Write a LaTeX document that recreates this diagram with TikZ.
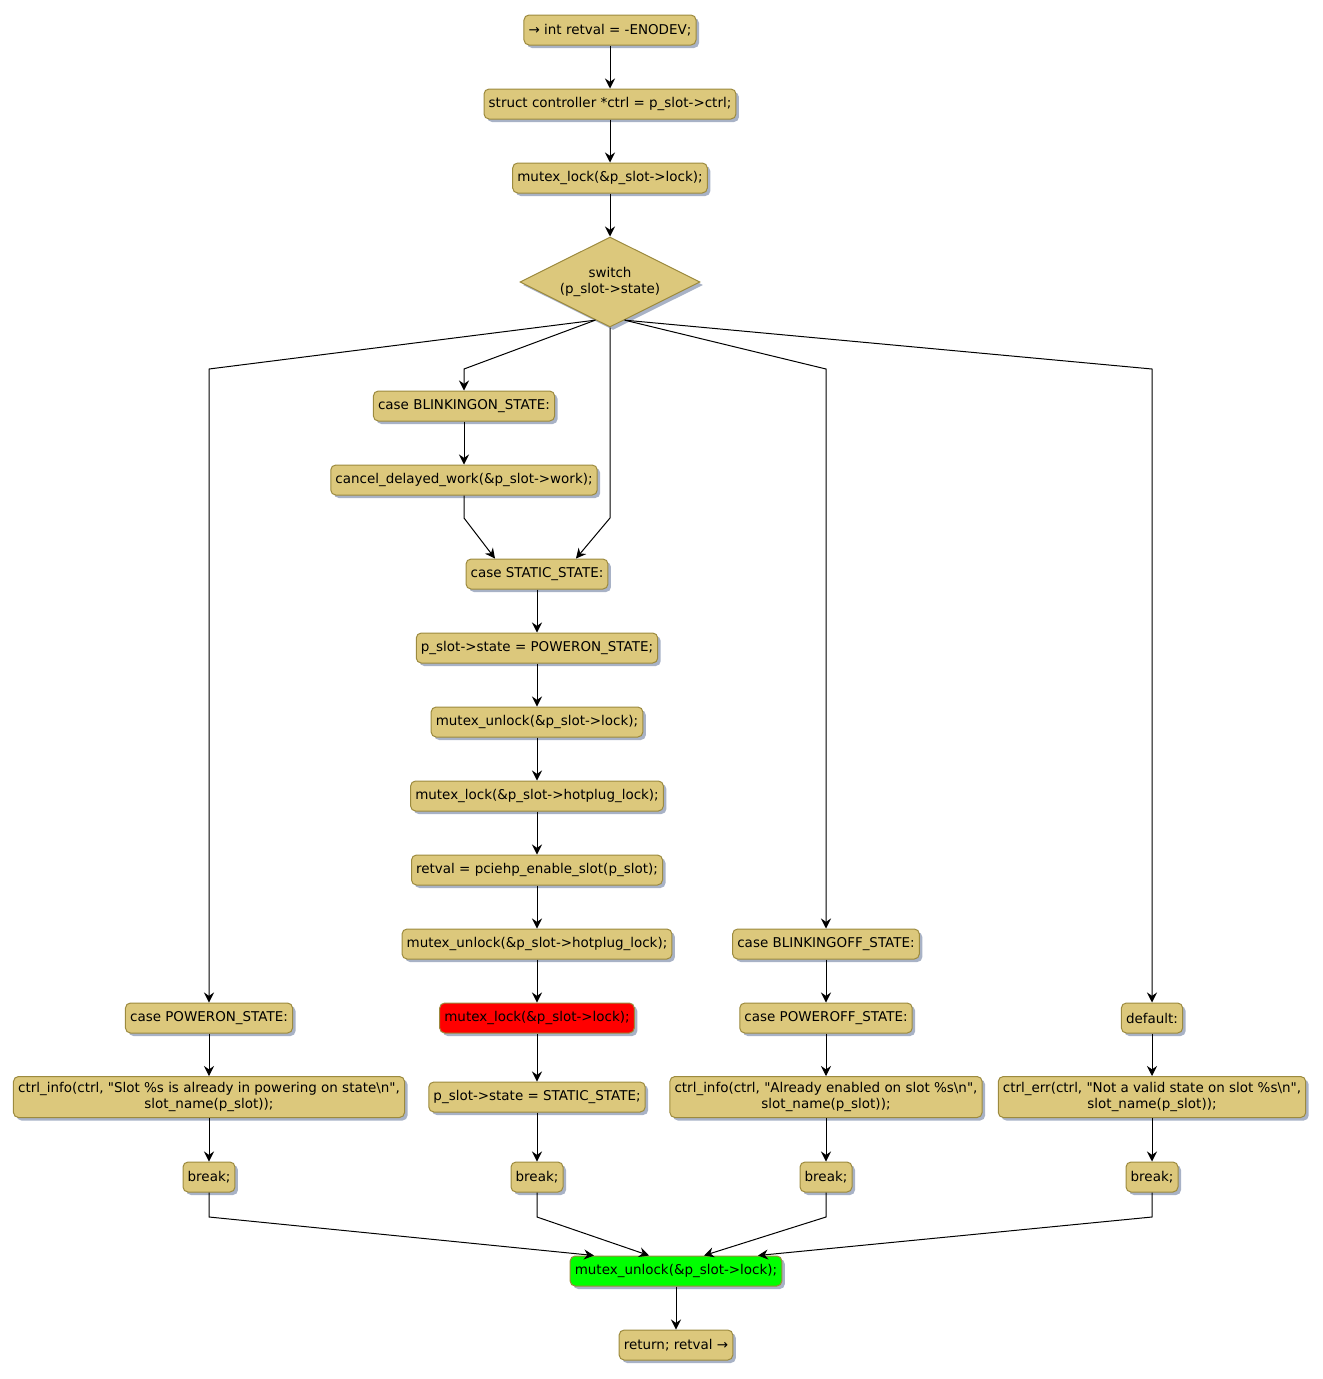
\documentclass[tikz,border=0pt]{standalone}
\usepackage{fontspec}
\setmainfont{DejaVu Sans}
\newfontfamily\codefont{DejaVu Sans}
\usetikzlibrary{shapes.geometric,shadows,calc,arrows.meta}
\definecolor{boxfill}{HTML}{DCC87C}
\definecolor{boxline}{HTML}{9C8A3E}
\definecolor{boxshadow}{HTML}{A8B2C6}
\tikzset{
  act/.style={draw=boxline,fill=boxfill,rounded corners=3.75pt,minimum height=22.5pt,
    inner xsep=3.5pt,inner ysep=2pt,line width=0.75pt,
    drop shadow={shadow xshift=2.25pt,shadow yshift=-2.25pt,fill=boxshadow,opacity=1}},
  act2/.style={act,align=center,minimum height=30.75pt},
  cond/.style={diamond,aspect=2,draw=boxline,fill=boxfill,line width=0.75pt,inner sep=0pt,
    minimum width=135pt,minimum height=67.5pt,align=center,
    drop shadow={shadow xshift=2.25pt,shadow yshift=-2.25pt,fill=boxshadow,opacity=1}},
  arr/.style={-{Stealth[length=7.5pt,width=7.5pt,inset=2.5pt]},line width=0.75pt}
}
\begin{document}
\begin{tikzpicture}[x=0.75pt,y=-0.75pt,every node/.style={font=\codefont\fontsize{10.1}{12}\selectfont}]
    \useasboundingbox (0,0) rectangle (1322,1379);

    % Helper rows for the bends
    \coordinate (split) at (0,369);
    \coordinate (joinS) at (0,518);
    \coordinate (merge) at (0,1217);

    % Main column
    \node[act] (start) at (610,30) {→ int retval = -ENODEV;};
    \node[act] (ctrl) at (610,104) {struct controller *ctrl = p\_slot->ctrl;};
    \node[act] (lock) at (610,178) {mutex\_lock(\&p\_slot->lock);};
    \node[cond] (sw) at (610,282) {switch\\(p\_slot->state)};

    % Blinking on / static
    \node[act] (bon) at (464,406) {case BLINKINGON\_STATE:};
    \node[act] (cancel) at (464,480) {cancel\_delayed\_work(\&p\_slot->work);};
    \node[act] (static) at (537,574) {case STATIC\_STATE:};
    \node[act] (pstate) at (537,648) {p\_slot->state = POWERON\_STATE;};
    \node[act] (unlk1) at (537,722) {mutex\_unlock(\&p\_slot->lock);};
    \node[act] (hplk) at (537,796) {mutex\_lock(\&p\_slot->hotplug\_lock);};
    \node[act] (enable) at (537,870) {retval = pciehp\_enable\_slot(p\_slot);};
    \node[act] (hpunlk) at (537,944) {mutex\_unlock(\&p\_slot->hotplug\_lock);};
    \node[act,fill=red] (relock) at (537,1018) {mutex\_lock(\&p\_slot->lock);};
    \node[act] (sstate) at (537,1097) {p\_slot->state = STATIC\_STATE;};
    \node[act] (brk2) at (537,1177) {break;};

    % Power on
    \node[act] (pon) at (209,1018) {case POWERON\_STATE:};
    \node[act2] (info1) at (209,1097) {ctrl\_info(ctrl, "Slot \%s is already in powering on state\textbackslash n",\\slot\_name(p\_slot));};
    \node[act] (brk1) at (209,1177) {break;};

    % Blinking off / power off
    \node[act] (boff) at (826,944) {case BLINKINGOFF\_STATE:};
    \node[act] (poff) at (826,1018) {case POWEROFF\_STATE:};
    \node[act2] (info2) at (826,1097) {ctrl\_info(ctrl, "Already enabled on slot \%s\textbackslash n",\\slot\_name(p\_slot));};
    \node[act] (brk3) at (826,1177) {break;};

    % Default
    \node[act] (dflt) at (1152,1018) {default:};
    \node[act2] (err) at (1152,1097) {ctrl\_err(ctrl, "Not a valid state on slot \%s\textbackslash n",\\slot\_name(p\_slot));};
    \node[act] (brk4) at (1152,1177) {break;};

    % End
    \node[act,fill=green] (unlk2) at (676,1271) {mutex\_unlock(\&p\_slot->lock);};
    \node[act] (ret) at (676,1345) {return; retval →};

    % Straight arrows
    \foreach \a/\b in {start/ctrl,ctrl/lock,lock/sw,bon/cancel,static/pstate,pstate/unlk1,
        unlk1/hplk,hplk/enable,enable/hpunlk,hpunlk/relock,relock/sstate,sstate/brk2,
        pon/info1,info1/brk1,boff/poff,poff/info2,info2/brk3,dflt/err,err/brk4,unlk2/ret}
        \draw[arr] (\a) -- (\b);

    % Switch branches
    \draw[arr] (sw.-111) -- (pon |- split) -- (pon);
    \draw[arr] (sw.-111) -- (bon |- split) -- (bon);
    \draw[arr] (sw.south) -- (sw.south |- joinS) -- ($(static.north)+(39,0)$);
    \draw[arr] (cancel) -- (cancel |- joinS) -- ($(static.north)+(-42,0)$);
    \draw[arr] (sw.-69) -- (boff |- split) -- (boff);
    \draw[arr] (sw.-69) -- (dflt |- split) -- (dflt);

    % Breaks to unlock
    \draw[arr] (brk1) -- (brk1 |- merge) -- ($(unlk2.north)+(-82,0)$);
    \draw[arr] (brk2) -- (brk2 |- merge) -- ($(unlk2.north)+(-27,0)$);
    \draw[arr] (brk3) -- (brk3 |- merge) -- ($(unlk2.north)+(28,0)$);
    \draw[arr] (brk4) -- (brk4 |- merge) -- ($(unlk2.north)+(82,0)$);
\end{tikzpicture}
\end{document}
